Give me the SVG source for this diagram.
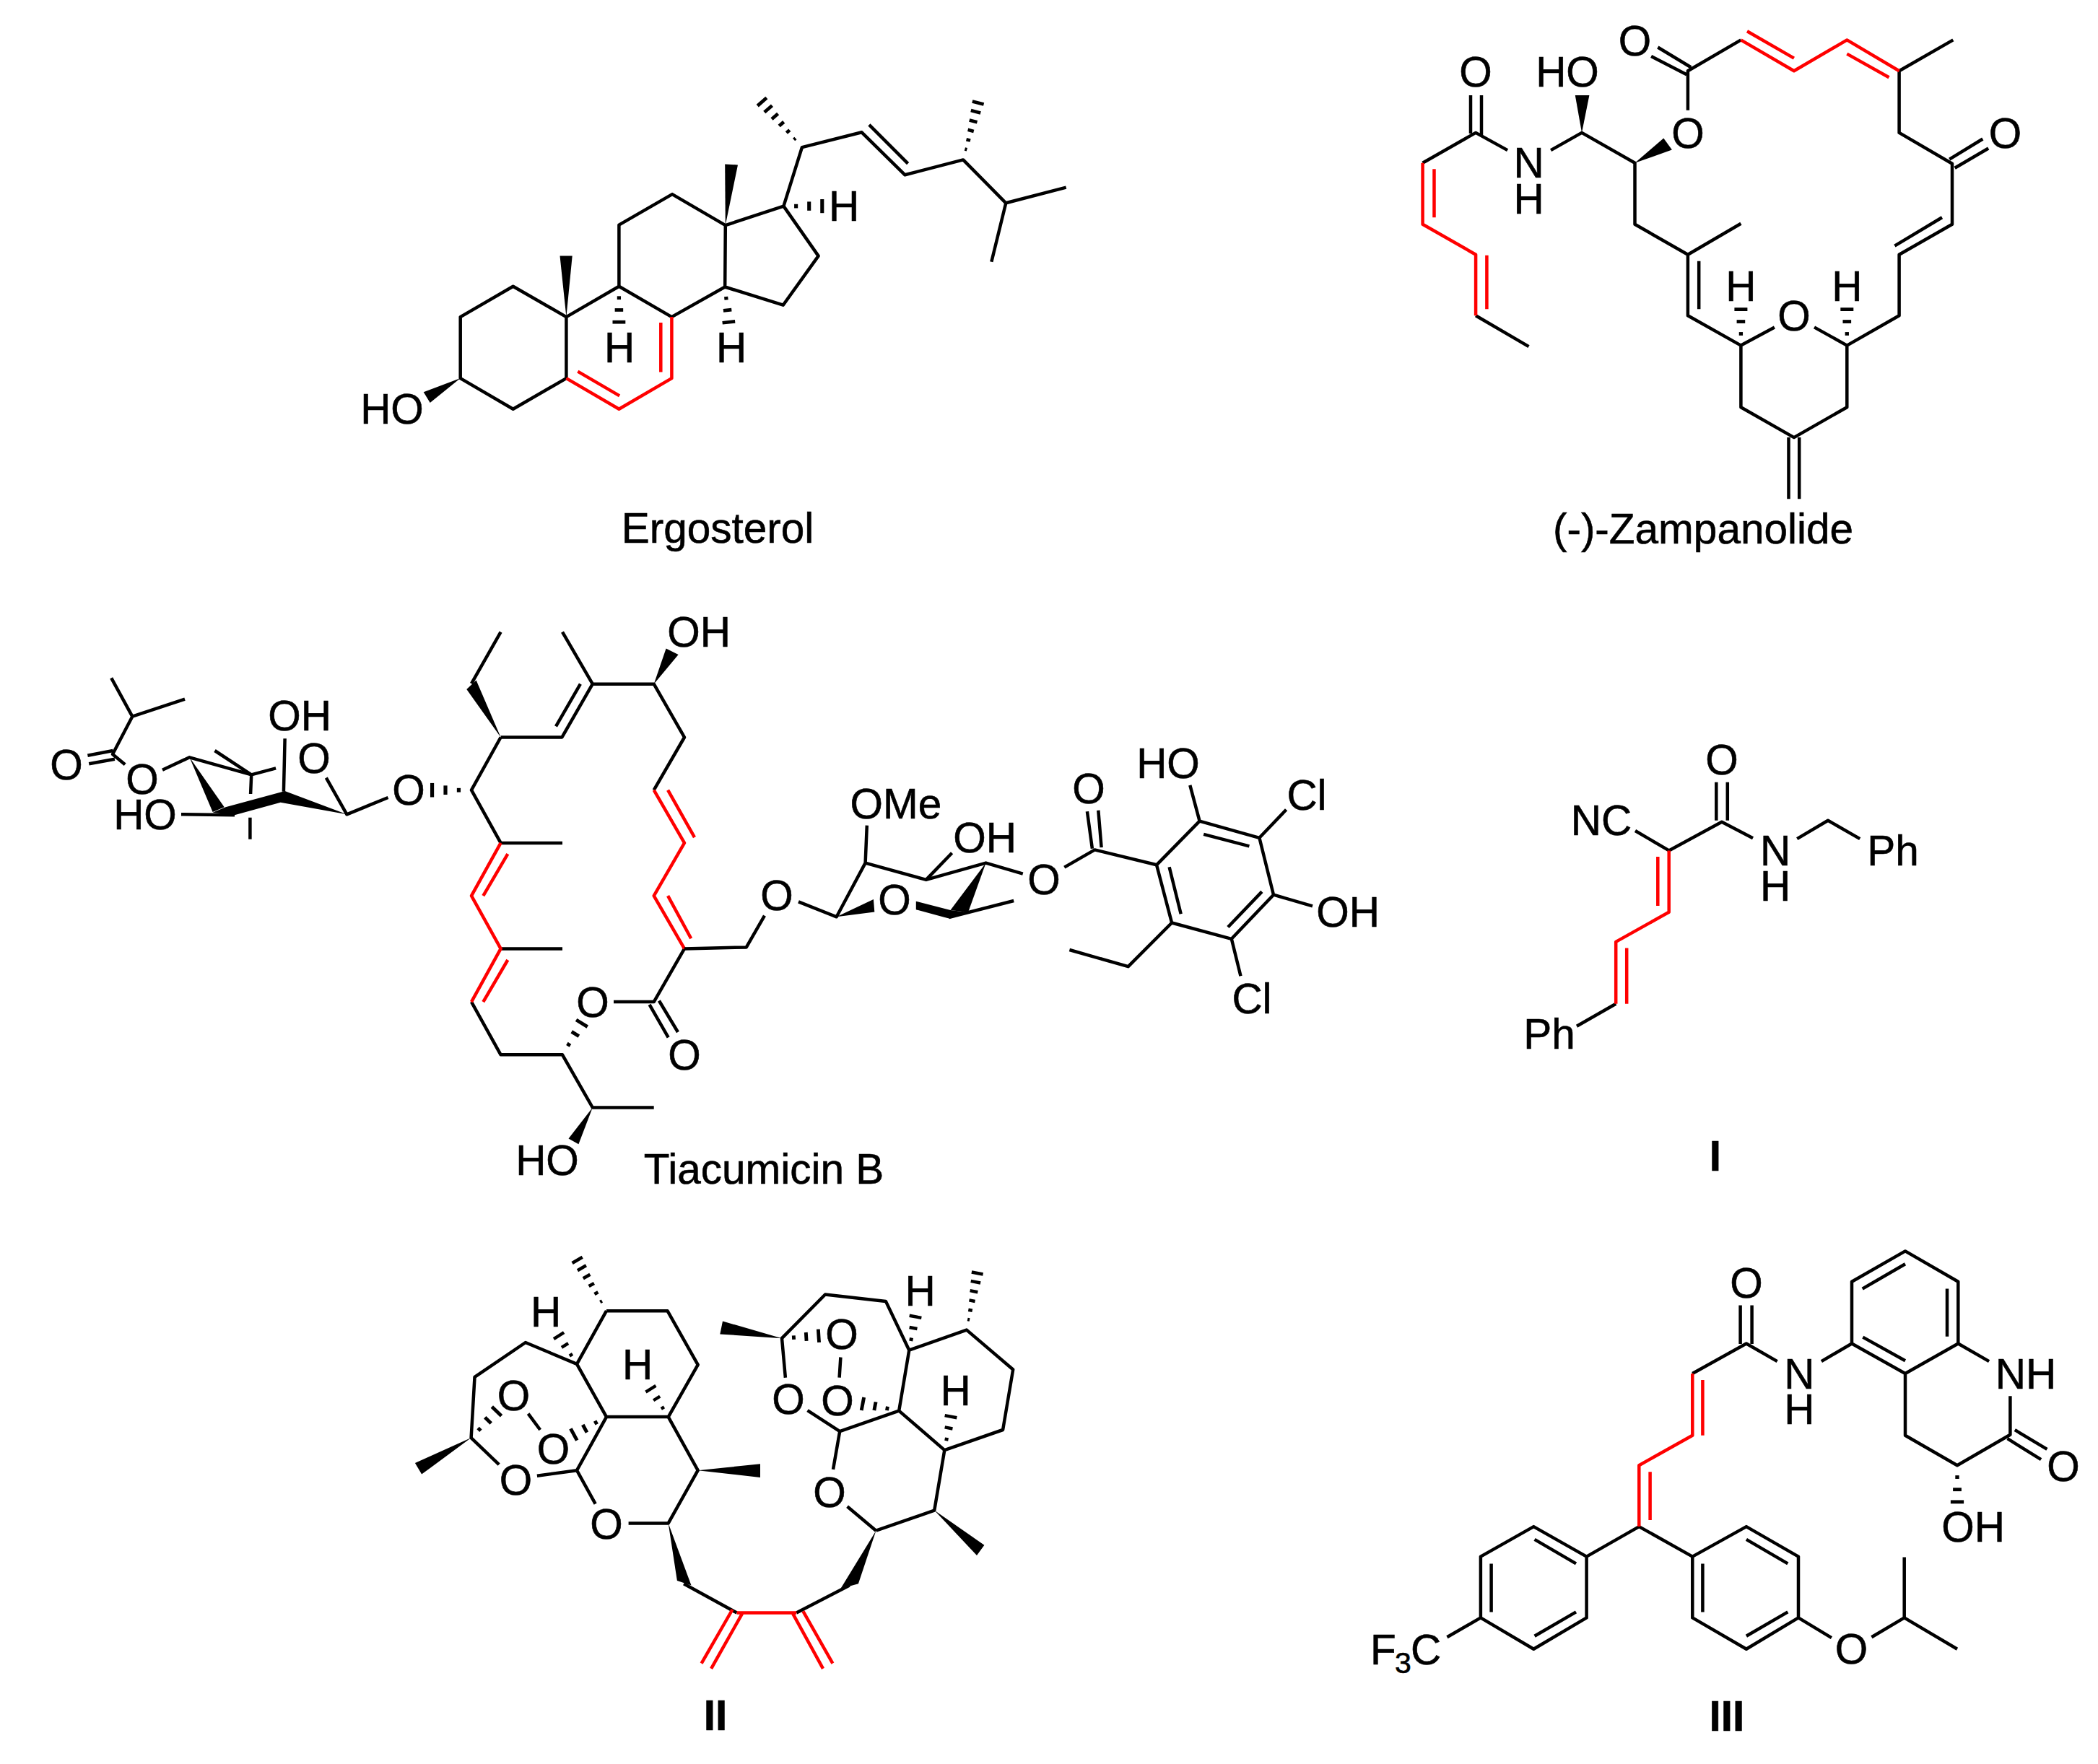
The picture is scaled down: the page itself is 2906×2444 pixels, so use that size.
<svg xmlns="http://www.w3.org/2000/svg" width="2906" height="2444" viewBox="0 0 2906 2444">
<style>
.k{fill:none;stroke:#000;stroke-width:4.5;stroke-linejoin:round}
.r{fill:none;stroke:#f00;stroke-width:4.5;stroke-linejoin:round}
.w{fill:#000;stroke:none}
text{font-family:"Liberation Sans",Arial,sans-serif;font-size:58.5px;fill:#000;stroke:#000;stroke-width:.6;text-anchor:middle}
.b{font-weight:bold}
.s{font-size:41px;text-anchor:start}
.a{text-anchor:start}
</style>
<defs>
<g id="hl"><rect x="15" y="-1.8" width="5.5" height="3.6"/><rect x="31" y="-3.4" width="5.5" height="6.8"/><rect x="47" y="-5" width="5.5" height="10"/><rect x="63" y="-6.6" width="5.5" height="13.2"/><rect x="79" y="-8.2" width="5.5" height="16.4"/><rect x="94" y="-9.7" width="5.5" height="19.4"/></g>
<g id="hs"><rect x="26" y="-5" width="9" height="10"/><rect x="58" y="-11" width="9" height="22"/><rect x="90" y="-17" width="9" height="34"/></g>
</defs>
<rect width="2906" height="2444" fill="#fff"/>

<g id="ergosterol">
<path class="k" d="M784.4 524.1L784.4 439.1L710.7 396.7L637.7 439.1L637.7 524.1L710.7 566.7L784.4 524.1M784.4 439.1L857.4 396.7L930.4 439.1M857.4 396.7L857.4 311.6L931.1 269.1L1004.8 312.1L1004.2 397.5L930.4 439.1M1004.8 312.1L1085.4 285.6L1133.6 354.6L1084.7 422.7L1004.2 397.5M1085.4 285.6L1110.9 204.1L1193.6 183.3L1253.5 242.3L1334.1 221.4L1393.3 281.3L1476.7 259.6M1393.3 281.3L1373.3 362.8M1203.9 172.9L1257.6 226.6"/>
<path class="r" d="M784.4 524.1L857.4 566.7L930.4 524.1L930.4 439.1M800.3 514.6L858.1 548.4M915.3 447L915.3 515.5"/>
<polygon class="w" points="1004.8,312.1 1004.2,227.5 1022,228.4"/>
<polygon class="w" points="784.4,439.1 775.5,354.6 792.7,354.6"/>
<polygon class="w" points="637.7,524.1 586.7,543.2 595.7,558"/>
<use href="#hl" transform="matrix(-.572 -.651 .651 -.572 1110.9 204.1)"/>
<use href="#hl" transform="matrix(.213 -.815 .815 .213 1334.1 221.4)"/>
<use href="#hs" transform="matrix(0 .524 -.524 0 857.4 396.7)"/>
<use href="#hs" transform="matrix(.055 .516 -.516 .055 1004.2 397.5)"/>
<use href="#hs" transform="matrix(.565 0 0 .565 1085.4 285.6)"/>
<text x="543" y="587">HO</text>
<text x="858" y="502">H</text>
<text x="1013" y="502">H</text>
<text x="1169" y="306">H</text>
<text x="994" y="752">Ergosterol</text>
</g>

<g id="zampanolide">
<path class="k" d="M2287.1 78.1L2336.1 103.3M2296.3 65.5L2342.2 93.2M2337.9 152.7L2337.9 98.2L2411.4 55.4M2630.6 98.2L2705.3 55.4M2630.6 98.2L2630.6 183.9L2704 226.7L2704 310.8L2630.6 352.7L2630.6 437.3L2558.3 478.6L2513 453.4M2700.3 220.7L2746.3 192.5M2707.7 232.8L2754.2 205.5M2624.4 340.6L2690 301.3M2457.9 453.4L2411.4 478.6L2337.9 437.3L2337.9 352.7L2264.5 310.8L2264.5 225.7L2191 183.9L2148.1 208.1M2353.2 361.7L2353.2 428.2M2337.9 352.7L2411.4 309.8M2411.4 478.6L2411.4 564.2L2484.9 606.1L2558.3 564.2L2558.3 478.6M2477.5 606.1L2477.5 691.2M2492.2 606.1L2492.2 691.2M2088.1 208.1L2044.1 183.9L1970.6 225.7M2037 132L2037 185M2052 132L2052 188M2044.1 437.3L2117.5 480.1"/>
<path class="r" d="M2411.4 55.4L2484.9 98.2L2558.3 55.4L2630.6 98.2M2420 43.3L2484.9 80.6M2558.3 74.6L2616.5 107.3M1970.6 225.7L1970.6 310.8L2044.1 352.7L2044.1 437.3M1986.5 234.3L1986.5 301.3M2059.4 353.7L2059.4 428.2"/>
<polygon class="w" points="2264.5,225.7 2304.3,191.4 2315.9,207.6"/>
<polygon class="w" points="2191,183.9 2181.8,132 2201.4,132"/>
<use href="#hs" transform="matrix(0 -.529 .529 0 2411.4 478.6)"/>
<use href="#hs" transform="matrix(0 -.529 .529 0 2558.3 478.6)"/>
<text x="2264.5" y="77">O</text>
<text x="2777.5" y="204.5">O</text>
<text x="2338" y="204.5">O</text>
<text x="2485" y="458">O</text>
<text x="2171" y="120">HO</text>
<text x="2044" y="120">O</text>
<text x="2117.5" y="246">N</text>
<text x="2117.5" y="296">H</text>
<text x="2411.4" y="416.5">H</text>
<text x="2558.3" y="416.5">H</text>
<text x="2359" y="753">(-)-Zampanolide</text>
</g>

<g id="tiacumicin-b">
<path class="k" d="M693.6 875.6L653 947.2M693.6 1021.5L778.4 1021.5L820.8 947.7L905.7 947.7L948 1021.5L905.7 1094.7M770 1006.3L803.9 947.7M779 875.6L820.8 947.7M693.6 1021.5L653 1094.7L693.6 1167.9L779 1167.9M693.6 1314.4L779 1314.4M653 1388.1L693.6 1461.3L779 1461.3L820.8 1534.5L905.7 1534.5M948 1314.4L905.7 1388.1L850 1388.1M899.6 1391.8L925.7 1437.3M912.9 1386.5L939 1430"/>
<path class="r" d="M693.6 1167.9L653 1241.1L693.6 1314.4L653 1388.1M703.3 1183.1L669.3 1241.1M703.3 1330L669.3 1388.1M905.7 1094.7L948 1167.9L905.7 1241.1L948 1314.4M925.1 1094.7L962 1160.1M925.1 1241.1L957.2 1300.2"/>
<polygon class="w" points="693.6,1021.5 646.3,955.1 659.6,942.5"/>
<polygon class="w" points="905.7,947.7 922.6,898.6 939.6,906.9"/>
<polygon class="w" points="820.8,1534.5 787.5,1577.4 801.4,1585.3"/>
<use href="#hs" transform="matrix(.285 -.46 .46 .285 779 1461.3)"/>
<use href="#hs" transform="matrix(-.576 0 0 -.576 653 1094.7)"/>
<path class="k" d="M154.2 939.4L183.3 992.7L256 968.7M183.3 992.7L156 1045L173.2 1059.3M121.4 1046.7L156.4 1040M123.2 1058.3L158.9 1051.7M225 1066.7L262.5 1049.3L348.2 1073.3L382.1 1064.3M348.2 1073.3L347.1 1100M297.5 1040L348.2 1073.3M346.4 1132.7L346.4 1162.7M251 1128.3L325 1129.3M394.6 1023.3L392.9 1096.7M451.8 1077.7L480.4 1128.3L537.5 1105"/>
<polygon class="w" points="262.5,1049.3 294.6,1125 310.7,1118.3"/>
<polygon class="w" points="312.5,1118.3 394.6,1096 480.4,1128.3 388.6,1111.7 325,1129.3 294.6,1125.7"/>
<text x="92" y="1080">O</text>
<text x="197" y="1100">O</text>
<text x="201" y="1149">HO</text>
<text x="415" y="1012">OH</text>
<text x="435" y="1071">O</text>
<text x="566" y="1115">O</text>
<text x="968" y="896">OH</text>
<text x="821" y="1408.5">O</text>
<text x="948" y="1482">O</text>
<text x="758" y="1628">HO</text>
<text x="1058" y="1640">Tiacumicin B</text>
<path class="k" d="M948 1314.4L1033.8 1312.4L1059 1268.6M1106 1249.4L1158.7 1270.3L1198.6 1195.6L1282.8 1218.9L1365.6 1195.6L1416.8 1210.6M1200.8 1143.6L1198.6 1195.6M1282.8 1218.9L1318.6 1181.7M1474.3 1201.6L1516.4 1177.4L1602 1198.3L1661.6 1137.6L1744.4 1160.8L1764 1239.7L1705.8 1300.8L1623.1 1278.5L1602 1198.3M1505.9 1124.3L1512.9 1175.7M1521.3 1122.7L1525.6 1174.1M1667.2 1155.9L1730.4 1172.4M1747.9 1235.4L1700.9 1284.5M1619.6 1201.3L1635.7 1266.3M1661.6 1137.6L1648.3 1087.9M1744.4 1160.8L1781.6 1121.7M1764 1239.7L1818 1255.3M1705.8 1300.8L1718.5 1352.2M1623.1 1278.5L1562.7 1339.2L1481.4 1316M1314.4 1271L1404.2 1248"/>
<polygon class="w" points="1158.7,1270.3 1209.9,1246 1211.3,1263.6"/>
<polygon class="w" points="1365.6,1195.6 1316.5,1261 1341,1264"/>
<polygon class="w" points="1268.8,1248.7 1316.5,1261 1341,1264 1314.4,1272.6 1268.8,1260.3"/>
<text x="1076" y="1261">O</text>
<text x="1239" y="1266.5">O</text>
<text x="1241" y="1134">OMe</text>
<text x="1364" y="1180.5">OH</text>
<text x="1446" y="1238.5">O</text>
<text x="1508" y="1113">O</text>
<text x="1618" y="1077.5">HO</text>
<text x="1810" y="1121.5">Cl</text>
<text x="1867" y="1283.5">OH</text>
<text x="1734" y="1403.5">Cl</text>
</g>

<g id="compound-i">
<path class="k" d="M2377.3 1083.7L2377.3 1136.7M2392.8 1083.7L2392.8 1136.7M2311.7 1178.4L2384.9 1138.8L2428 1161.2M2489.2 1162.1L2532 1136.8L2576.2 1162.1M2265 1151L2311.7 1178.4M2238.2 1390.7L2184 1421.7"/>
<path class="r" d="M2311.7 1178.4L2311.7 1263.7L2238.2 1304.9L2238.2 1390.7M2296.3 1187L2296.3 1255.1M2253.2 1313.5L2253.2 1390.7"/>
<text x="2385" y="1073">O</text>
<text x="2459" y="1199">N</text>
<text x="2459" y="1248">H</text>
<text x="2622" y="1199">Ph</text>
<text x="2218" y="1157">NC</text>
<text x="2146" y="1453">Ph</text>
<text class="b" x="2376" y="1622">I</text>
</g>

<g id="compound-ii">
<path class="k" d="M840 1816.2L924.5 1816.2L966.7 1890.8L925.7 1963.1L840 1963.1L799 1889.9L840 1816.2M925.7 1963.1L966.7 2037.2L925.7 2110.4L870.6 2110.4M840 1963.1L799 2037.2L824.7 2083.6M799 2037.2L743.9 2044.8M691.2 2029.2L652.6 1992.1L657.5 1907.8L727.9 1860L799 1889.9M731.6 1958.6L748.2 1981M947.1 2194.3L1020.6 2234.5M1103.2 2234.5L1176.7 2196.6"/>
<path class="r" d="M1020.6 2234.5L1103.2 2234.5M1027.9 2235.9L985.1 2311.8M1014.5 2230L971.6 2304.6M1098.3 2235.9L1140 2311.8M1112.4 2232.3L1153.4 2304.6"/>
<polygon class="w" points="966.7,2037.2 1053,2028.3 1053,2047"/>
<polygon class="w" points="652.6,1992.1 574.9,2027 584.1,2042.6"/>
<polygon class="w" points="925.7,2110.4 937.9,2189.9 957.5,2196.6"/>
<use href="#hl" transform="matrix(-.417 -.727 .727 -.417 840 1816.2)"/>
<use href="#hs" transform="matrix(-.264 -.415 .415 -.264 799 1889.9)"/>
<use href="#hs" transform="matrix(-.257 -.411 .411 -.257 925.7 1963.1)"/>
<use href="#hs" transform="matrix(.374 -.388 .388 .374 652.6 1992.1)"/>
<use href="#hs" transform="matrix(-.478 .259 -.259 -.478 840 1963.1)"/>
<text x="840" y="2131.5">O</text>
<text x="714.5" y="2070.5">O</text>
<text x="711.5" y="1953.5">O</text>
<text x="766.5" y="2027.5">O</text>
<text x="756" y="1837.5">H</text>
<text x="883" y="1910.5">H</text>
<path class="k" d="M1213.4 2120.7L1294.2 2092.6L1308.3 2009.1L1245.2 1954.6L1259.3 1870.7L1338.9 1842.6L1403.2 1897.5L1389.1 1981L1308.3 2009.1M1259.3 1870.7L1226.9 1802.9L1143 1793.5L1083 1854.2L1087.9 1908.7M1118.5 1954.2L1163.2 1983.2L1245.2 1954.6M1163.2 1983.2L1154 2035.9M1173.6 2087.2L1213.4 2120.7M1164.4 1880.5L1162.6 1908.7"/>
<polygon class="w" points="1294.2,2092.6 1363.4,2140.8 1353,2155"/>
<polygon class="w" points="1083,1854.2 1001,1830.5 997.3,1848.4"/>
<polygon class="w" points="1213.4,2120.7 1164.4,2201 1188.9,2194.3"/>
<use href="#hl" transform="matrix(.153 -.813 .813 .153 1338.9 1842.6)"/>
<use href="#hs" transform="matrix(.539 -.036 .036 .539 1083 1854.2)"/>
<use href="#hs" transform="matrix(-.532 -.102 .102 -.532 1245.2 1954.6)"/>
<use href="#hs" transform="matrix(.092 -.491 .491 .092 1259.3 1870.7)"/>
<use href="#hs" transform="matrix(.092 -.491 .491 .092 1308.3 2009.1)"/>
<text x="1092" y="1959">O</text>
<text x="1149" y="2087.5">O</text>
<text x="1166" y="1869">O</text>
<text x="1160" y="1960.5">O</text>
<text x="1274.5" y="1808.5">H</text>
<text x="1323.5" y="1947">H</text>
<text class="b" x="991" y="2397">II</text>
</g>

<g id="compound-iii">
<path class="k" d="M2410.6 1808.4L2410.6 1862M2426.6 1808.4L2426.6 1862M2344.3 1903L2418.9 1861.5L2461.7 1886.1M2522.9 1886.1L2565 1861.5L2565 1775.8L2639 1733.4L2712.3 1775.8L2712.3 1861.5L2639 1903L2565 1861.5M2579.7 1785.6L2639 1751.2M2697 1785.6L2697 1851.7M2580.3 1852.6L2639 1885.2M2712.3 1861.5L2755.1 1886.1M2784.4 1934.3L2784.4 1987.8L2711 2030.2L2639 1988.7L2639 1903M2790.8 1981.1L2835.4 2007.9M2780.6 1993.2L2827.1 2022.2M2197.6 2156.6L2270.3 2115.1L2344.3 2156.6M2197.6 2156.6L2124.3 2115.1L2050.9 2156.6L2050.9 2241.4L2124.3 2284.7L2197.6 2241.4L2197.6 2156.6M2125.6 2132.9L2183 2166.4M2065.6 2166.4L2065.6 2233.4M2125.6 2266.8L2183 2233.4M2050.9 2241.4L2004.4 2268.2M2344.3 2156.6L2418.9 2115.1L2491 2156.6L2491 2241.4L2418.9 2284.7L2344.3 2241.4L2344.3 2156.6M2418.9 2132.9L2476.3 2166.4M2358.4 2166.4L2358.4 2233.4M2418.9 2266.8L2476.3 2233.4M2491 2241.4L2536.9 2269.1M2592.4 2268.2L2637.7 2241.4L2637.7 2157.5M2637.7 2241.4L2711 2284.7"/>
<path class="r" d="M2344.3 1903L2344.3 1988.7L2270.3 2030.2L2270.3 2115.1M2358.4 1912L2358.4 1988.7M2285.6 2039.2L2285.6 2106.1"/>
<use href="#hs" transform="matrix(0 .536 -.536 0 2711 2030.2)"/>
<text x="2419" y="1797.5">O</text>
<text x="2492.3" y="1923.5">N</text>
<text x="2492.3" y="1972.5">H</text>
<text x="2806" y="1923.5">NH</text>
<text x="2858" y="2051.5">O</text>
<text x="2733" y="2135.5">OH</text>
<text class="a" x="1898" y="2306">F</text><text class="s" x="1932" y="2318">3</text><text class="a" x="1954" y="2306">C</text>
<text x="2564.5" y="2305">O</text>
<text class="b" x="2392" y="2398">III</text>
</g>
</svg>
